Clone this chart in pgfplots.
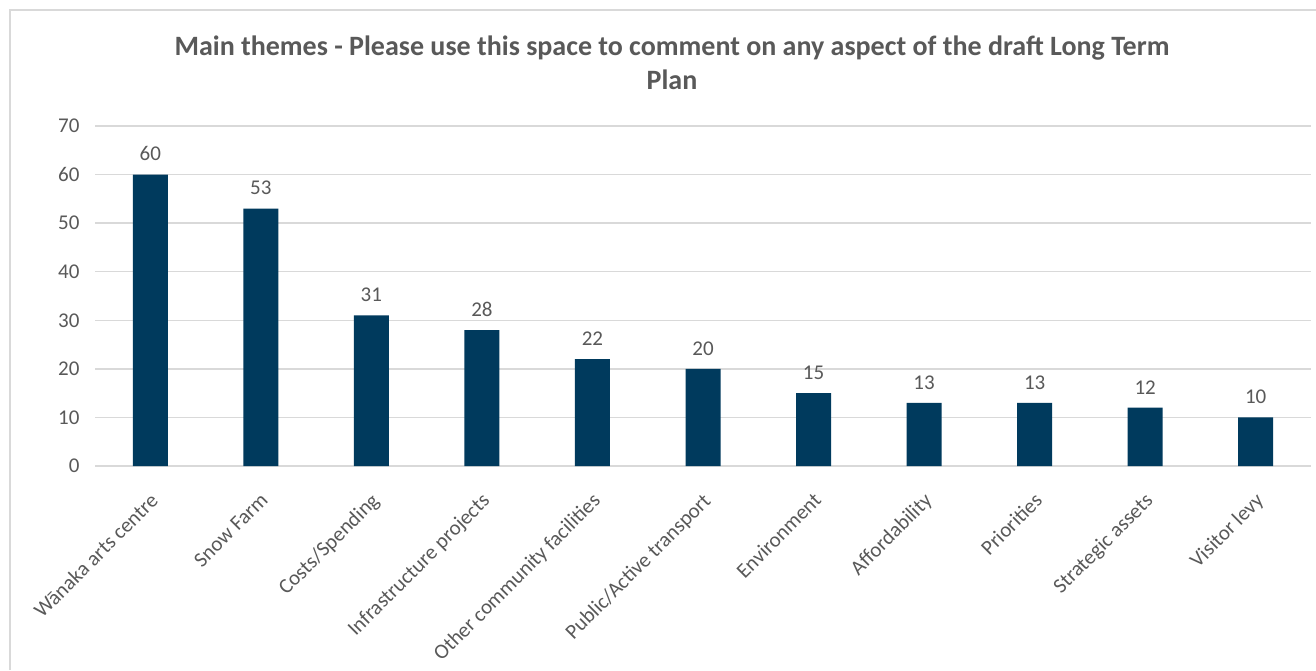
\documentclass[border=0pt]{standalone}
\usepackage{pgfplots}
\pgfplotsset{compat=1.18}
\usepackage{fontspec}
\setmainfont{Carlito}
\definecolor{barblue}{HTML}{003A5D}
\definecolor{txtgray}{HTML}{595959}
\definecolor{gridgray}{HTML}{D9D9D9}
\begin{document}
\begin{tikzpicture}
\useasboundingbox (0pt,0pt) rectangle (1316pt,670pt);
\fill[white] (0pt,0pt) rectangle (1316pt,670pt);
\draw[gridgray, line width=2pt] (10pt,0pt) -- (10pt,660pt) -- (1316pt,660pt);
\node[font=\fontsize{28}{34}\selectfont\bfseries, text=txtgray, align=center] at (672pt,607pt)
  {Main themes - Please use this space to comment on any aspect of the draft Long Term\\Plan};
\begin{axis}[
  at={(95pt,204pt)}, anchor=south west,
  scale only axis, width=1216pt, height=340pt,
  xmin=-0.5, xmax=10.5, ymin=0, ymax=70,
  ytick={0,10,...,70},
  xtick={0,...,10},
  xticklabels={Wānaka arts centre, Snow Farm, Costs/Spending, Infrastructure projects, Other community facilities, Public/Active transport, Environment, Affordability, Priorities, Strategic assets, Visitor levy},
  xticklabel style={rotate=45, anchor=north east, inner sep=2pt, xshift=-17pt, yshift=-15pt},
  ymajorgrids, grid style={gridgray, line width=1.5pt},
  axis line style={draw=none},
  axis x line*=bottom,
  x axis line style={gridgray, line width=1.5pt},
  major tick length=0pt,
  tick label style={font=\fontsize{21}{25}\selectfont, text=txtgray},
  /pgf/number format/assume math mode=true,
  yticklabel style={xshift=-12pt},
  ybar, bar width=35pt,
  nodes near coords,
  every node near coord/.append style={font=\fontsize{21}{25}\selectfont, text=txtgray, yshift=10pt},
  clip=false,
]
\addplot[fill=barblue, draw=none] coordinates {
  (0,60) (1,53) (2,31) (3,28) (4,22) (5,20) (6,15) (7,13) (8,13) (9,12) (10,10)
};
\end{axis}
\end{tikzpicture}
\end{document}
